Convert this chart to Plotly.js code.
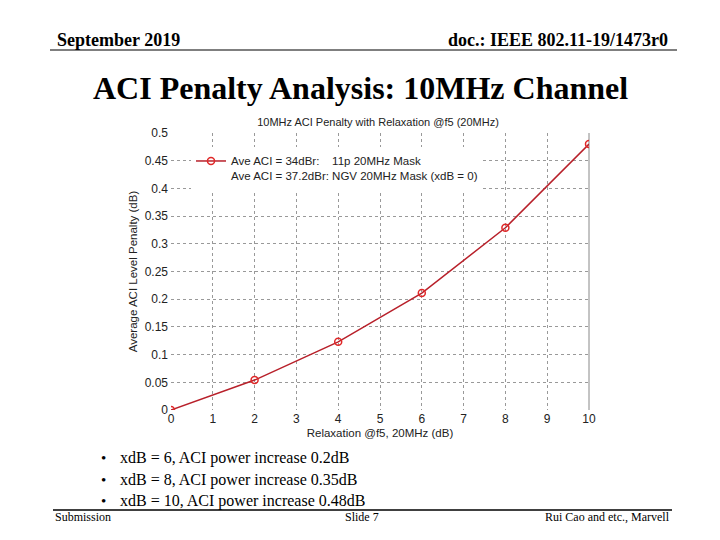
<!DOCTYPE html>
<html>
<head>
<meta charset="utf-8">
<script src="https://cdn.plot.ly/plotly-3.0.1.min.js"></script>
<style>html,body{margin:0;padding:0;background:#fff;}#chart{width:720px;height:540px;}</style>
</head>
<body>
<div id="chart"></div>
<script>
// Data
const relaxation = [0, 2, 4, 6, 8, 10];
const aciPenalty = [0, 0.054, 0.123, 0.211, 0.329, 0.480];
const seriesName = "Ave ACI = 34dBr:    11p 20MHz Mask<br>Ave ACI = 37.2dBr: NGV 20MHz Mask (xdB = 0)";
const bullets = [
  "xdB = 6, ACI power increase 0.2dB",
  "xdB = 8, ACI power increase 0.35dB",
  "xdB = 10, ACI power increase 0.48dB"
];

// plot-area pixel frame
const L = 171, R = 589, T = 133, B = 410;
const px = x => (x - L) / (R - L);
const py = y => (B - y) / (B - T);

const serif = "Liberation Serif, Times New Roman, serif";
const sans = "Liberation Sans, Arial, sans-serif";

const annotations = [
  {text: "<b>September 2019</b>", x: px(55), y: py(40), xanchor: "left", yanchor: "middle", font: {family: serif, size: 18, color: "#000"}},
  {text: "<b>doc.: IEEE 802.11-19/1473r0</b>", x: px(670), y: py(40), xanchor: "right", yanchor: "middle", font: {family: serif, size: 18, color: "#000"}},
  {text: "<b>ACI Penalty Analysis: 10MHz Channel</b>", x: px(360), y: py(88), xanchor: "center", yanchor: "middle", font: {family: serif, size: 32, color: "#000"}},
  {text: "Submission", x: px(53), y: py(517), xanchor: "left", yanchor: "middle", font: {family: serif, size: 12, color: "#000"}},
  {text: "Slide 7", x: px(362), y: py(517), xanchor: "center", yanchor: "middle", font: {family: serif, size: 12, color: "#000"}},
  {text: "Rui Cao and etc., Marvell", x: px(672), y: py(517), xanchor: "right", yanchor: "middle", font: {family: serif, size: 12, color: "#000"}}
];
bullets.forEach((t, i) => {
  const yy = 458 + i * 21.5;
  annotations.push({text: "•", x: px(103), y: py(yy), xanchor: "center", yanchor: "middle", font: {family: serif, size: 15, color: "#000"}});
  annotations.push({text: t, x: px(118), y: py(yy), xanchor: "left", yanchor: "middle", font: {family: serif, size: 16, color: "#000"}});
});
annotations.forEach(a => { a.xref = "paper"; a.yref = "paper"; a.showarrow = false; });

const shapes = [
  {type: "line", xref: "paper", yref: "paper", x0: px(50), x1: px(677), y0: py(50), y1: py(50), line: {color: "#000", width: 1.2}},
  {type: "line", xref: "paper", yref: "paper", x0: px(53), x1: px(672), y0: py(510), y1: py(510), line: {color: "#000", width: 1.5}},
  {type: "line", xref: "paper", yref: "paper", x0: 1, x1: 1, y0: 0, y1: 1, line: {color: "#888", width: 1}, layer: "below"}
];

const trace = {
  x: relaxation, y: aciPenalty, name: seriesName,
  type: "scatter", mode: "lines+markers",
  line: {color: "#b8202a", width: 1.5},
  marker: {symbol: "circle-open", size: 7, color: "#e02828", line: {width: 1.5}}
};

const layout = {
  width: 720, height: 540,
  margin: {l: L, r: 720 - R, t: T, b: 540 - B, pad: 0},
  paper_bgcolor: "#fff", plot_bgcolor: "#fff",
  title: {text: "10MHz ACI Penalty with Relaxation @f5 (20MHz)", x: px(378), xref: "paper", y: 1 - 122 / 540, yanchor: "middle", font: {family: sans, size: 11, color: "#222"}},
  showlegend: true,
  legend: {x: px(191), y: py(147), xanchor: "left", yanchor: "top", bgcolor: "#fff", borderwidth: 0, valign: "top",
           font: {family: sans, size: 11.5, color: "#222"}, itemwidth: 30, tracegroupgap: 0},
  xaxis: {range: [0, 10], dtick: 1, tick0: 0, showgrid: true, gridcolor: "#999", griddash: "dot", gridwidth: 1,
          zeroline: false, showline: false, ticks: "", tickfont: {family: sans, size: 12, color: "#222"},
          title: {text: "Relaxation @f5, 20MHz (dB)", font: {family: sans, size: 11.5, color: "#222"}, standoff: 3}},
  yaxis: {range: [0, 0.5], dtick: 0.05, tick0: 0, showgrid: true, gridcolor: "#999", griddash: "dot", gridwidth: 1,
          zeroline: false, showline: false, ticks: "", ticklabelstandoff: 2, tickfont: {family: sans, size: 12, color: "#222"},
          title: {text: "Average ACI Level Penalty (dB)", font: {family: sans, size: 11.5, color: "#222"}, standoff: 4}},
  annotations: annotations,
  shapes: shapes
};

Plotly.newPlot("chart", [trace], layout, {displayModeBar: false, staticPlot: true});
</script>
</body>
</html>
